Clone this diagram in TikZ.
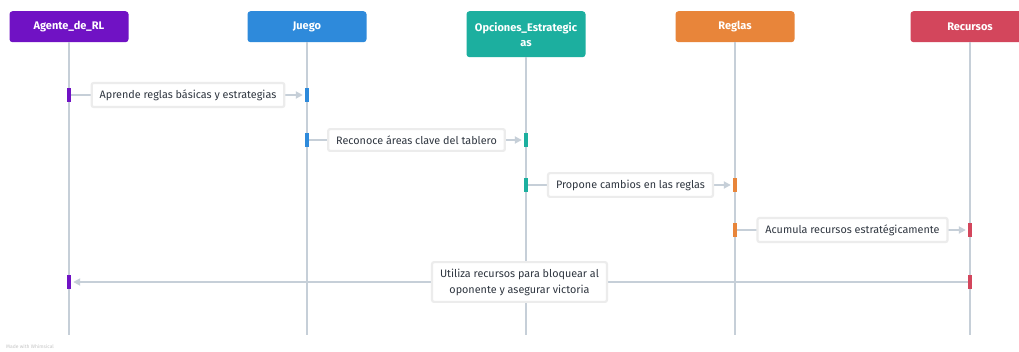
\documentclass[tikz,border=0pt]{standalone}
\usepackage{fontspec}
\setmainfont{Fira Sans}
\usetikzlibrary{arrows.meta}

\definecolor{agentecol}{HTML}{7012C4}
\definecolor{juegocol}{HTML}{2E8ADB}
\definecolor{opcionescol}{HTML}{1CAF9F}
\definecolor{reglascol}{HTML}{E8853A}
\definecolor{recursoscol}{HTML}{D3465C}
\definecolor{linecol}{HTML}{C6CFD8}
\definecolor{textcol}{HTML}{2F3640}

\tikzset{
  actor/.style={rounded corners=3pt,minimum width=119pt,minimum height=31pt,
    anchor=north,text=white,align=center,inner sep=2pt,
    font=\fontsize{11}{15}\selectfont\bfseries},
  lifeline/.style={draw=linecol,line width=2pt},
  bar/.style={minimum width=4pt,minimum height=14pt,inner sep=0pt},
  msg/.style={draw=linecol,line width=2.2pt,-{Triangle[length=7pt,width=7pt]},shorten >=2pt},
  lbl/.style={draw=gray!15,fill=white,rounded corners=2pt,text=textcol,align=center,
    inner xsep=8pt,inner ysep=6.5pt,font=\fontsize{10.8}{16}\selectfont},
}

\begin{document}
\begin{tikzpicture}[x=1pt,y=-1pt]
  \useasboundingbox[fill=white] (0,0) rectangle (1019,351);

  % participants
  \node[actor,fill=agentecol] (agente) at (69,11) {Agente\_de\_RL};
  \node[actor,fill=juegocol] (juego) at (307,11) {Juego};
  \node[actor,fill=opcionescol,minimum height=46pt] (opciones) at (526,11) {Opciones\_Estrategic\\as};
  \node[actor,fill=reglascol] (reglas) at (735,11) {Reglas};
  \node[actor,fill=recursoscol] (recursos) at (970,11) {Recursos};

  % lifelines
  \foreach \p in {agente,juego,opciones,reglas,recursos}
    \draw[lifeline] (\p.south) -- (\p.south |- 0,335);

  % activation bars
  \node[bar,fill=agentecol] (m1a) at (69,95) {};
  \node[bar,fill=juegocol] (m1b) at (307,95) {};
  \node[bar,fill=juegocol] (m2a) at (307,140) {};
  \node[bar,fill=opcionescol] (m2b) at (526,140) {};
  \node[bar,fill=opcionescol] (m3a) at (526,185) {};
  \node[bar,fill=reglascol] (m3b) at (735,185) {};
  \node[bar,fill=reglascol] (m4a) at (735,230) {};
  \node[bar,fill=recursoscol] (m4b) at (970,230) {};
  \node[bar,fill=recursoscol] (m5a) at (970,282) {};
  \node[bar,fill=agentecol] (m5b) at (69,282) {};

  % messages
  \draw[msg] (m1a) -- node[lbl] (l1) {Aprende reglas básicas y estrategias} (m1b);
  \draw[msg] (m2a) -- node[lbl] (l2) {Reconoce áreas clave del tablero} (m2b);
  \draw[msg] (m3a) -- node[lbl] (l3) {Propone cambios en las reglas} (m3b);
  \draw[msg] (m4a) -- node[lbl] (l4) {Acumula recursos estratégicamente} (m4b);
  \draw[msg] (m5a) -- node[lbl] (l5) {Utiliza recursos para bloquear al\\oponente y asegurar victoria} (m5b);

  \node[anchor=west,text=gray!45,font=\fontsize{5}{6}\selectfont,inner sep=0pt] (made) at (6,347) {Made with Whimsical};
\end{tikzpicture}
\end{document}
